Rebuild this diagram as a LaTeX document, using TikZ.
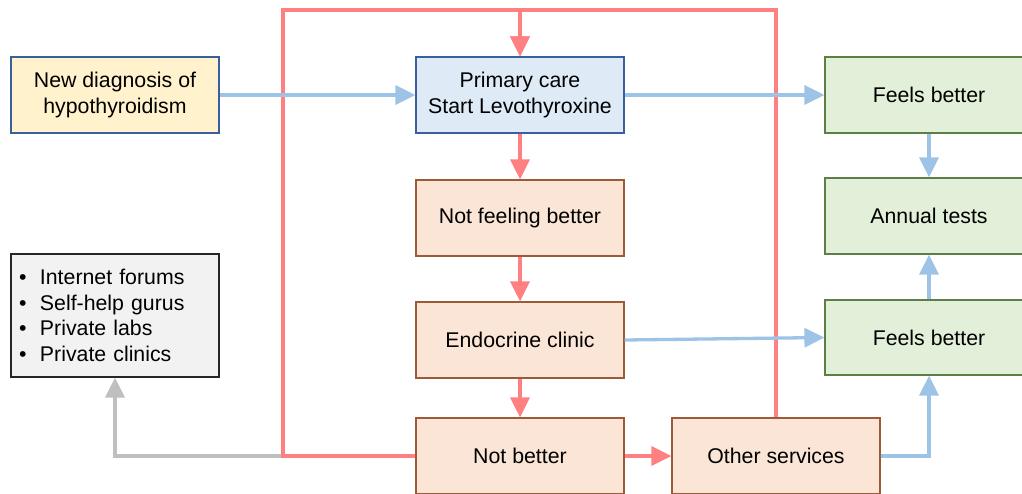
\documentclass[tikz,border=0pt]{standalone}
\usepackage{fontspec}
\setmainfont{Liberation Sans}
\usetikzlibrary{arrows.meta}

\definecolor{flowred}{RGB}{255,128,128}
\definecolor{flowblue}{HTML}{9DC3E6}
\definecolor{flowgray}{HTML}{BFBFBF}
\definecolor{yelfill}{HTML}{FFF2CC}
\definecolor{bluefill}{HTML}{DEEBF7}
\definecolor{blueline}{HTML}{3A5F9E}
\definecolor{orgfill}{HTML}{FBE5D6}
\definecolor{orgline}{HTML}{9C5B36}
\definecolor{grnfill}{HTML}{E2F0D9}
\definecolor{grnline}{HTML}{5B7F45}
\definecolor{grayfill}{HTML}{F2F2F2}

\tikzset{
  box/.style={draw, line width=1.2pt, minimum width=208pt, minimum height=76pt,
    inner sep=0pt, align=center, font=\fontsize{21.3pt}{26pt}\selectfont},
  startbox/.style={box, fill=yelfill, draw=blueline},
  carebox/.style={box, fill=bluefill, draw=blueline},
  probbox/.style={box, fill=orgfill, draw=orgline},
  goodbox/.style={box, fill=grnfill, draw=grnline},
  listbox/.style={draw=black!85, line width=1.2pt, fill=grayfill, minimum width=208pt,
    minimum height=123pt, text width=192pt, inner xsep=8pt, inner ysep=0pt, align=left,
    font=\fontsize{21.3pt}{25.5pt}\selectfont},
  tip/.style={-{Triangle[length=20pt,width=19pt]}},
  redflow/.style={tip, draw=flowred, line width=3.3pt},
  blueflow/.style={tip, draw=flowblue, line width=3.3pt},
  grayflow/.style={tip, draw=flowgray, line width=3.3pt},
}
\newcommand{\bulletitem}[1]{\makebox[21pt][l]{•}#1}

\begin{document}
\begin{tikzpicture}[x=1pt, y=-1pt]
\useasboundingbox (0,0) rectangle (1022,493);

% boxes
\node[startbox] (diag) at (115,95) {New diagnosis of\\hypothyroidism};
\node[carebox]  (prim) at (520,95) {Primary care\\Start Levothyroxine};
\node[goodbox]  (feel1) at (929,95) {Feels better};
\node[probbox]  (notfeel) at (520,218) {Not feeling better};
\node[goodbox]  (annual) at (929,216) {Annual tests};
\node[listbox]  (alt) at (115,315.5) {\bulletitem{Internet forums}\\\bulletitem{Self-help gurus}\\\bulletitem{Private labs}\\\bulletitem{Private clinics}};
\node[probbox]  (endo) at (520,340) {Endocrine clinic};
\node[goodbox, minimum height=75pt] (feel2) at (929,337.5) {Feels better};
\node[probbox]  (notbet) at (520,456) {Not better};
\node[probbox]  (other) at (776,456) {Other services};

\coordinate (loopL) at (283,10);
\coordinate (loopR) at (other.north |- loopL);

% turning elsewhere
\draw[grayflow] (notbet.west) -| (alt.south);

% loops back to primary care
\draw[redflow] (notbet.west) -| (loopL) -| (prim.north);
\draw[redflow] (other.north) -- (loopR) -| (prim.north);
\draw[redflow] (prim.south) -- (notfeel.north);
\draw[redflow] (notfeel.south) -- (endo.north);
\draw[redflow] (endo.south) -- (notbet.north);
\draw[redflow] (notbet.east) -- (other.west);

% good outcomes
\draw[blueflow] (diag.east) -- (prim.west);
\draw[blueflow] (prim.east) -- (feel1.west);
\draw[blueflow] (feel1.south) -- (annual.north);
\draw[blueflow] (feel2.north) -- (annual.south);
\draw[blueflow] (endo.east) -- (feel2.west);
\draw[blueflow] (other.east) -| (feel2.south);
\end{tikzpicture}
\end{document}
